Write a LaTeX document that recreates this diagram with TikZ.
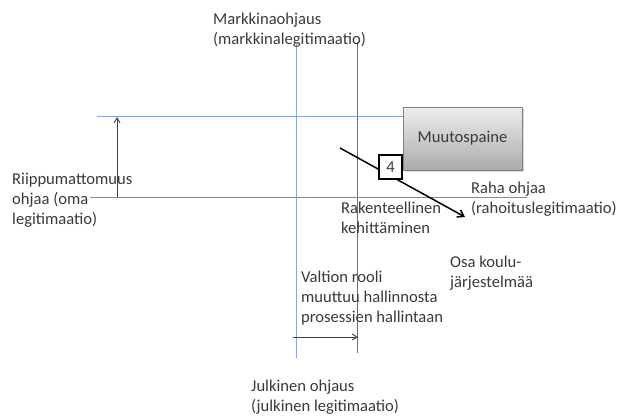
\documentclass[tikz,border=0pt]{standalone}
\usepackage{fontspec}
\setmainfont{Carlito}
\usetikzlibrary{arrows.meta,shadows}
\definecolor{txt}{HTML}{3A3A3A}
\definecolor{paleblue}{HTML}{86A9DA}
\definecolor{midblue}{HTML}{3F78C0}
\definecolor{axisblue}{HTML}{6690CC}
\begin{document}
\begin{tikzpicture}[x=1pt,y=-1pt,
  % base anchor of a multi-line node sits on its last line
  lbl/.style={anchor=base west,inner sep=0pt,text=txt,font=\fontsize{16.6}{20}\selectfont,align=left},
  thinax/.style={draw=paleblue,line width=0.9pt},
  strongax/.style={draw=midblue,line width=0.9pt},
  movearrow/.style={draw=black!75,line width=0.9pt,-{Straight Barb[length=5pt,width=6pt]}},
  pressure/.style={draw=black!50,line width=0.8pt,top color=black!7,bottom color=black!33,
    drop shadow={shadow xshift=1.5pt,shadow yshift=-1.5pt,opacity=0.3},minimum width=119pt,minimum height=63pt,
    font=\fontsize{16.6}{20}\selectfont,text=txt},
  tag/.style={draw=black,line width=1.2pt,fill=white,minimum width=23pt,minimum height=24pt,inner sep=0pt,
    font=\fontsize{16.6}{20}\selectfont,text=txt}
]
\useasboundingbox (0,0) rectangle (617,415);

% axis lines
\coordinate (vlT) at (296,44);  \coordinate (vlB) at (296,358);
\coordinate (vrT) at (357,42);  \coordinate (vrB) at (357,353);
\coordinate (hTL) at (97,116);  \coordinate (hTR) at (450,116);
\coordinate (hBL) at (90,197);  \coordinate (hBR) at (527,197);
\draw[thinax] (vlT) -- (vlB);
\draw[strongax] (vrT) -- (vrB);
\draw[thinax] (hTL) -- (hTR);
\draw[draw=axisblue,line width=0.9pt] (hBL) -- (hBR);

% pressure box
\node[pressure] (mp) at (462.5,138.5) {Muutospaine};

% shift arrows
\coordinate (upS) at (117,197); \coordinate (upE) at (117,117);
\draw[movearrow] (upS) -- (upE);
\coordinate (rtS) at (293,337); \coordinate (rtE) at (358,337);
\draw[movearrow] (rtS) -- (rtE);
\coordinate (dgS) at (340,148); \coordinate (dgE) at (465,217);
\draw[draw=black,line width=1.5pt,-{Straight Barb[length=6pt,width=8pt]}] (dgS) -- (dgE);
\node[tag] (four) at (390.5,167) {4};

% labels
\node[lbl] (mk) at (213,44) {Markkinaohjaus\\(markkinalegitimaatio)};
\node[lbl] (rp) at (12,224) {Riippumattomuus\\ohjaa (oma\\legitimaatio)};
\node[lbl] (rh) at (471,213) {Raha ohjaa\\(rahoituslegitimaatio)};
\node[lbl] (rk) at (341,233) {Rakenteellinen\\kehittäminen};
\node[lbl] (ok) at (450,287) {Osa koulu-\\järjestelmää};
\node[lbl] (vr) at (301,322) {Valtion rooli\\muuttuu hallinnosta\\prosessien hallintaan};
\node[lbl] (jo) at (251,411) {Julkinen ohjaus\\(julkinen legitimaatio)};
\end{tikzpicture}
\end{document}
